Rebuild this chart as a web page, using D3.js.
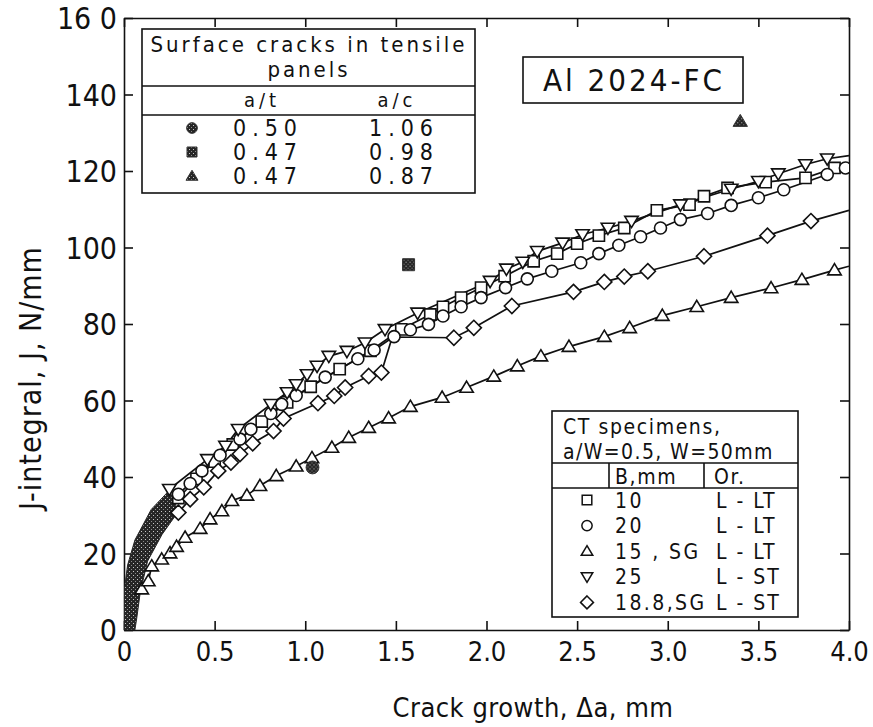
<!DOCTYPE html>
<html>
<head>
<meta charset="utf-8">
<script src="https://cdn.jsdelivr.net/npm/d3@7"></script>
<style>
  body { margin: 0; background: #fff; }
  svg text { font-family: "Liberation Sans Narrow", "DejaVu Sans Condensed", "Roboto Condensed", "DejaVu Sans", sans-serif; fill: #111; }
</style>
</head>
<body>
<div id="wrapper"></div>
<script>
// DATA
// CT specimens: [crack growth mm, J N/mm, marker shown (1) or bare line vertex (0)]
const squares10 = [
  [0.30, 34.5, 1], [0.40, 39.5, 1], [0.50, 44, 1], [0.60, 48.5, 1], [0.76, 54.5, 1], [0.90, 59.5, 1],
  [1.03, 63.6, 1], [1.19, 68.2, 1], [1.36, 73, 1], [1.53, 78.6, 1], [1.69, 82.5, 1], [1.76, 84.5, 1],
  [1.86, 86.9, 1], [1.97, 89.5, 1], [2.10, 92.5, 1], [2.26, 96.4, 1], [2.39, 98.4, 1], [2.50, 101, 1],
  [2.62, 103.1, 1], [2.76, 105.1, 1], [2.94, 109.7, 1], [3.12, 111.2, 1], [3.20, 113.4, 1], [3.33, 115.6, 1],
  [3.54, 117.1, 1], [3.76, 118.2, 1], [3.92, 120.8, 1], [4.0, 121.8, 0]
]
const circles20 = [
  [0.30, 35.5, 1], [0.365, 38.3, 1], [0.43, 41.6, 1], [0.53, 45.7, 1], [0.64, 49.9, 1], [0.70, 52.5, 1],
  [0.81, 56.6, 1], [0.87, 59.0, 1], [0.95, 61.3, 1], [1.11, 66.1, 1], [1.29, 70.9, 1], [1.38, 73.2, 1],
  [1.49, 76.7, 1], [1.58, 78.5, 1], [1.68, 79.9, 1], [1.76, 82.1, 1], [1.86, 84.5, 1], [1.97, 86.9, 1],
  [2.105, 89.5, 1], [2.225, 91.8, 1], [2.36, 93.8, 1], [2.52, 96.0, 1], [2.62, 98.4, 1], [2.73, 100.6, 1],
  [2.85, 102.8, 1], [2.96, 105.1, 1], [3.07, 107.3, 1], [3.22, 108.9, 1], [3.35, 111.0, 1], [3.50, 113.0, 1],
  [3.64, 115.1, 1], [3.88, 119.1, 1], [3.98, 120.8, 1]
]
const triUp15 = [
  [0.098, 10.7, 1], [0.134, 12.8, 1], [0.153, 16.7, 1], [0.208, 18.5, 1], [0.254, 20.1, 1], [0.29, 21.8, 1],
  [0.337, 24.2, 1], [0.42, 26.5, 1], [0.475, 29.0, 1], [0.54, 31.1, 1], [0.595, 33.8, 1], [0.678, 35.2, 1],
  [0.75, 37.7, 1], [0.84, 40.3, 1], [0.95, 42.8, 1], [1.037, 45.0, 1], [1.147, 47.7, 1], [1.24, 50.3, 1],
  [1.35, 52.9, 1], [1.46, 55.4, 1], [1.58, 58.4, 1], [1.755, 60.8, 1], [1.89, 63.4, 1], [2.04, 66.3, 1],
  [2.17, 69.0, 1], [2.30, 71.6, 1], [2.455, 74.1, 1], [2.65, 76.7, 1], [2.79, 79.0, 1], [2.97, 82.2, 1],
  [3.16, 84.5, 1], [3.35, 86.9, 1], [3.57, 89.4, 1], [3.74, 91.6, 1], [3.92, 94.1, 1], [4.0, 95.1, 0]
]
const triDown25 = [
  [0.25, 36.8, 1], [0.46, 44.6, 1], [0.56, 48.1, 1], [0.63, 52.5, 1], [0.81, 59.0, 1], [0.90, 62.1, 1],
  [0.95, 64.2, 1], [1.01, 66.8, 1], [1.065, 69.0, 1], [1.13, 71.6, 1], [1.23, 72.9, 1], [1.33, 75.1, 1],
  [1.44, 78.6, 1], [1.62, 82.9, 1], [2.02, 91.2, 1], [2.11, 94.4, 1], [2.20, 96.2, 1], [2.28, 99.0, 1],
  [2.42, 101.2, 1], [2.53, 103.4, 1], [2.67, 105.1, 1], [2.80, 106.9, 1], [3.07, 111.2, 1], [3.35, 115.3, 1],
  [3.50, 117.3, 1], [3.61, 119.3, 1], [3.76, 121.7, 1], [3.88, 123.2, 1], [4.0, 124.0, 0]
]
const diamonds188 = [
  [0.30, 30.7, 1], [0.365, 34.2, 1], [0.44, 37.3, 1], [0.52, 41.6, 1], [0.59, 43.8, 1], [0.64, 46.0, 1],
  [0.71, 48.8, 1], [0.825, 52.0, 1], [0.88, 55.3, 1], [1.07, 59.3, 1], [1.16, 61.2, 1], [1.22, 63.4, 1],
  [1.35, 66.4, 1], [1.42, 67.3, 1], [1.48, 76.6, 0], [1.82, 76.4, 1], [1.93, 79.0, 1], [2.14, 84.7, 1],
  [2.48, 88.4, 1], [2.65, 91.0, 1], [2.76, 92.4, 1], [2.89, 93.8, 1], [3.20, 97.7, 1], [3.55, 103.1, 1],
  [3.79, 106.9, 1], [4.0, 109.7, 0]
]

// surface cracks in tensile panels (single points)
const panelSymbols = ['circle', 'square', 'triangle']
const panelAt = ['0.50', '0.47', '0.47']
const panelAc = ['1.06', '0.98', '0.87']
const panelPoints = [[1.04, 42.5], [1.57, 95.5], [3.40, 133]]

// scatter band near the origin
const bandUpper = [[0.0, 0], [0.0, 10], [0.02, 17], [0.06, 23.5], [0.15, 31.5], [0.25, 36.5]]
const bandLower = [[0.30, 31], [0.21, 25], [0.13, 18], [0.09, 10], [0.07, 3], [0.06, 0]]

// CT legend
const ctSymbols = ['square', 'circle', 'triangle', 'triangleDown', 'diamond']
const ctThickness = ['10', '20', '15 , SG', '25', '18.8,SG']
const ctOrient = ['L - LT', 'L - LT', 'L - LT', 'L - ST', 'L - ST']

const xTicks = [0, 0.5, 1.0, 1.5, 2.0, 2.5, 3.0, 3.5, 4.0]
const xTickLabels = ['0', '0.5', '1.0', '1.5', '2.0', '2.5', '3.0', '3.5', '4.0']
const yTicks = [0, 20, 40, 60, 80, 100, 120, 140, 160]
const yTickLabels = ['0', '20', '40', '60', '80', '100', '120', '140', '16 0']

// DIMENSIONS
const dimensions = {
  width: 873,
  height: 727,
  margin: { top: 18, right: 24, bottom: 97, left: 124 }
}
dimensions.boundedWidth = dimensions.width - dimensions.margin.left - dimensions.margin.right
dimensions.boundedHeight = dimensions.height - dimensions.margin.top - dimensions.margin.bottom

const wrapper = d3.select('#wrapper').append('svg')
  .attr('width', dimensions.width)
  .attr('height', dimensions.height)

const bounds = wrapper.append('g')
  .attr('transform', `translate(${dimensions.margin.left},${dimensions.margin.top})`)

// SCALES
const xScale = d3.scaleLinear().domain([0, 4]).range([0, dimensions.boundedWidth])
const yScale = d3.scaleLinear().domain([0, 160]).range([dimensions.boundedHeight, 0])

// stipple pattern for the band
const defs = wrapper.append('defs')
const pat = defs.append('pattern').attr('id', 'stipple')
  .attr('width', 4).attr('height', 4).attr('patternUnits', 'userSpaceOnUse')
pat.append('rect').attr('width', 4).attr('height', 4).attr('fill', '#262626')
pat.append('rect').attr('x', 1).attr('y', 1).attr('width', 1).attr('height', 1).attr('fill', '#c8c8c8')
pat.append('rect').attr('x', 3).attr('y', 3).attr('width', 1).attr('height', 1).attr('fill', '#8a8a8a')
defs.append('clipPath').attr('id', 'plotClip').append('rect')
  .attr('width', dimensions.boundedWidth).attr('height', dimensions.boundedHeight)

// AXES (ticks point inward on every side)
const tickLen = 9
const xAxisBottom = bounds.append('g')
  .attr('transform', `translate(0,${dimensions.boundedHeight})`)
  .call(d3.axisBottom(xScale).tickValues(xTicks).tickSizeInner(-tickLen).tickSizeOuter(0).tickFormat((d, i) => xTickLabels[i]))
const xAxisTop = bounds.append('g')
  .call(d3.axisTop(xScale).tickValues(xTicks).tickSizeInner(-tickLen).tickSizeOuter(0).tickFormat(''))
const yAxisLeft = bounds.append('g')
  .call(d3.axisLeft(yScale).tickValues(yTicks).tickSizeInner(-tickLen).tickSizeOuter(0).tickFormat((d, i) => yTickLabels[i]))
const yAxisRight = bounds.append('g')
  .attr('transform', `translate(${dimensions.boundedWidth},0)`)
  .call(d3.axisRight(yScale).tickValues(yTicks).tickSizeInner(-tickLen).tickSizeOuter(0).tickFormat(''))

bounds.selectAll('.domain').attr('stroke', '#111').attr('stroke-width', 1.6)
bounds.selectAll('.tick line').attr('stroke', '#111').attr('stroke-width', 1.6)

xAxisBottom.selectAll('.tick text')
  .attr('y', 12).attr('dy', '0.71em')
  .style('font-size', '27px')
yAxisLeft.selectAll('.tick text')
  .attr('x', -7).attr('dy', '0.36em')
  .style('font-size', '30px')
  .style('text-anchor', 'end')

// LABELS
wrapper.append('text')
  .attr('x', 533)
  .attr('y', 707)
  .attr('dy', '0.36em')
  .style('text-anchor', 'middle')
  .style('font-size', '27px')
  .style('letter-spacing', '0.5px')
  .text('Crack growth, Δa, mm')

wrapper.append('text')
  .attr('transform', 'translate(30,378) rotate(-90)')
  .attr('dy', '0.36em')
  .style('text-anchor', 'middle')
  .style('font-size', '30px')
  .style('letter-spacing', '1px')
  .text('J-integral, J, N/mm')

// SYMBOLS
const markerPath = (type, s) => {
  if (type === 'square') return `M${-s},${-s}H${s}V${s}H${-s}Z`
  if (type === 'circle') return d3.symbol(d3.symbolCircle, Math.PI * s * s * 1.15)()
  if (type === 'triangle') return `M0,${-s * 1.15}L${s * 1.2},${s * 0.85}L${-s * 1.2},${s * 0.85}Z`
  if (type === 'triangleDown') return `M0,${s * 1.15}L${s * 1.2},${-s * 0.85}L${-s * 1.2},${-s * 0.85}Z`
  return `M0,${-s * 1.35}L${s * 1.35},0L0,${s * 1.35}L${-s * 1.35},0Z`
}

// BAND
const plot = bounds.append('g').attr('clip-path', 'url(#plotClip)')
plot.append('path')
  .attr('d', d3.line().x(d => xScale(d[0])).y(d => yScale(d[1]))(bandUpper.concat(bandLower)) + 'Z')
  .attr('fill', 'url(#stipple)')
  .attr('stroke', '#262626')
  .attr('stroke-width', 1)

// CT CURVES
const ctSeries = [
  { data: squares10, symbol: 'square' },
  { data: circles20, symbol: 'circle' },
  { data: triUp15, symbol: 'triangle' },
  { data: triDown25, symbol: 'triangleDown' },
  { data: diamonds188, symbol: 'diamond' }
]
const lineGenerator = d3.line().x(d => xScale(d[0])).y(d => yScale(d[1]))

ctSeries.forEach(s => {
  plot.append('path')
    .attr('d', lineGenerator(s.data))
    .attr('fill', 'none')
    .attr('stroke', '#111')
    .attr('stroke-width', 1.7)
})
ctSeries.forEach(s => {
  plot.append('g').selectAll('path')
    .data(s.data.filter(d => d[2] === 1))
    .enter().append('path')
    .attr('transform', d => `translate(${xScale(d[0])},${yScale(d[1])})`)
    .attr('d', markerPath(s.symbol, 5.6))
    .attr('fill', '#fff')
    .attr('stroke', '#111')
    .attr('stroke-width', 1.6)
})

// panel points
bounds.append('g').selectAll('path')
  .data(panelPoints)
  .enter().append('path')
  .attr('transform', d => `translate(${xScale(d[0])},${yScale(d[1])})`)
  .attr('d', (d, i) => markerPath(panelSymbols[i], 6))
  .attr('fill', 'url(#stipple)')
  .attr('stroke', '#333')
  .attr('stroke-width', 1)

// LEGEND: surface cracks
const leg1 = wrapper.append('g')
leg1.append('rect').attr('x', 142).attr('y', 29).attr('width', 333).attr('height', 164)
  .attr('fill', '#fff').attr('stroke', '#111').attr('stroke-width', 1.6)
leg1.append('line').attr('x1', 142).attr('x2', 475).attr('y1', 86).attr('y2', 86).attr('stroke', '#111').attr('stroke-width', 1.6)
leg1.append('line').attr('x1', 142).attr('x2', 475).attr('y1', 115).attr('y2', 115).attr('stroke', '#111').attr('stroke-width', 1.6)
leg1.append('text').attr('x', 309).attr('y', 44).attr('dy', '0.36em').style('text-anchor', 'middle')
  .style('font-size', '22px').style('letter-spacing', '3px').text('Surface cracks in tensile')
leg1.append('text').attr('x', 309).attr('y', 69).attr('dy', '0.36em').style('text-anchor', 'middle')
  .style('font-size', '22px').style('letter-spacing', '3px').text('panels')
leg1.append('text').attr('x', 262).attr('y', 100).attr('dy', '0.36em').style('text-anchor', 'middle')
  .style('font-size', '20px').style('letter-spacing', '4px').text('a/t')
leg1.append('text').attr('x', 397).attr('y', 100).attr('dy', '0.36em').style('text-anchor', 'middle')
  .style('font-size', '20px').style('letter-spacing', '4px').text('a/c')
panelSymbols.forEach((sym, i) => {
  const y = 128 + i * 24
  leg1.append('path').attr('transform', `translate(192,${y})`)
    .attr('d', markerPath(sym, 5)).attr('fill', 'url(#stipple)').attr('stroke', '#333').attr('stroke-width', 1)
  leg1.append('text').attr('x', 268).attr('y', y).attr('dy', '0.36em').style('text-anchor', 'middle')
    .style('font-size', '23px').style('letter-spacing', '6px').text(panelAt[i])
  leg1.append('text').attr('x', 404).attr('y', y).attr('dy', '0.36em').style('text-anchor', 'middle')
    .style('font-size', '23px').style('letter-spacing', '6px').text(panelAc[i])
})

// title box
wrapper.append('rect').attr('x', 523).attr('y', 57).attr('width', 220).attr('height', 46)
  .attr('fill', '#fff').attr('stroke', '#111').attr('stroke-width', 1.6)
wrapper.append('text').attr('x', 634).attr('y', 80).attr('dy', '0.36em').style('text-anchor', 'middle')
  .style('font-size', '31px').style('letter-spacing', '3px').text('Al 2024-FC')

// LEGEND: CT specimens
const leg2 = wrapper.append('g')
leg2.append('rect').attr('x', 552).attr('y', 411).attr('width', 246).attr('height', 206)
  .attr('fill', '#fff').attr('stroke', '#111').attr('stroke-width', 1.6)
leg2.append('line').attr('x1', 552).attr('x2', 798).attr('y1', 463).attr('y2', 463).attr('stroke', '#111').attr('stroke-width', 1.4)
leg2.append('line').attr('x1', 552).attr('x2', 798).attr('y1', 488).attr('y2', 488).attr('stroke', '#111').attr('stroke-width', 1.4)
leg2.append('line').attr('x1', 609).attr('x2', 609).attr('y1', 463).attr('y2', 488).attr('stroke', '#111').attr('stroke-width', 1.6)
leg2.append('line').attr('x1', 704).attr('x2', 704).attr('y1', 463).attr('y2', 488).attr('stroke', '#111').attr('stroke-width', 1.6)
leg2.append('text').attr('x', 563).attr('y', 426).attr('dy', '0.36em')
  .style('font-size', '21px').style('letter-spacing', '1.6px').text('CT specimens,')
leg2.append('text').attr('x', 563).attr('y', 451).attr('dy', '0.36em')
  .style('font-size', '21px').style('letter-spacing', '1.4px').text('a/W=0.5, W=50mm')
leg2.append('text').attr('x', 615).attr('y', 476).attr('dy', '0.36em')
  .style('font-size', '21px').style('letter-spacing', '1.6px').text('B,mm')
leg2.append('text').attr('x', 714).attr('y', 476).attr('dy', '0.36em')
  .style('font-size', '21px').style('letter-spacing', '1.6px').text('Or.')
ctSymbols.forEach((sym, i) => {
  const y = 500 + i * 25.6
  leg2.append('path').attr('transform', `translate(587,${y})`)
    .attr('d', markerPath(sym, 4.8)).attr('fill', '#fff').attr('stroke', '#111').attr('stroke-width', 1.5)
  leg2.append('text').attr('x', 615).attr('y', y).attr('dy', '0.36em')
    .style('font-size', '21px').style('letter-spacing', '2.4px').text(ctThickness[i])
  leg2.append('text').attr('x', 716).attr('y', y).attr('dy', '0.36em')
    .style('font-size', '21px').style('letter-spacing', '2px').text(ctOrient[i])
})
</script>
</body>
</html>
